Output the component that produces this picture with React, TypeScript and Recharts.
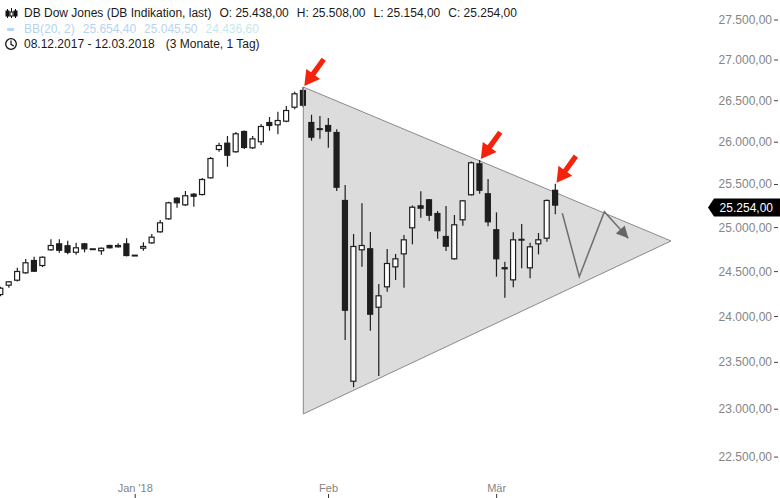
import React from "react";
import {
  ComposedChart,
  Bar,
  Area,
  Line,
  Scatter,
  XAxis,
  YAxis,
  ReferenceLine,
} from "recharts";

const FONT = "'Liberation Sans', Arial, Helvetica, sans-serif";

// daily candles, 08.12.2017 - 12.03.2018 (weekdays, index 0 = 08.12.)
const opens = [
  24238, 24342, 24398, 24481, 24631, 24563, 24741, 24820, 24798, 24713,
  24820, 24752, 24730, 24801, 24775, 24820, 24680, 24759, 24820, 24946,
  25095, 25346, 25257, 25392, 25377, 25572, 25907, 25994, 25880, 26134,
  25927, 25999, 26242, 26202, 26246, 26415, 26631, 26242, 26167, 26206,
  26122, 25319, 23292, 24741, 24764, 24097, 24324, 24548, 24695, 24992,
  25257, 25327, 25168, 24904, 24639, 25084, 25374, 25749, 25397, 24981,
  24526, 24402, 24860, 24537, 24809, 24873, 25438,
];
const highs = [
  24330, 24395, 24544, 24642, 24668, 24672, 24866, 24866, 24850, 24827,
  24825, 24752, 24772, 24805, 24820, 24878, 24680, 24832, 24927, 25087,
  25300, 25350, 25424, 25400, 25576, 25825, 25994, 26074, 26122, 26140,
  26074, 26218, 26302, 26367, 26436, 26610, 26667, 26330, 26315, 26290,
  26154, 25494, 24927, 25281, 24950, 24361, 24756, 24699, 24915, 25255,
  25420, 25330, 25190, 25249, 25145, 25320, 25770, 25788, 25564, 25176,
  24612, 24946, 25041, 24827, 24938, 25325, 25508,
];
const lows = [
  24225, 24320, 24390, 24475, 24495, 24550, 24735, 24713, 24695, 24690,
  24718, 24752, 24690, 24760, 24772, 24672, 24680, 24736, 24815, 24940,
  25090, 25230, 25250, 25241, 25370, 25570, 25887, 25709, 25875, 25919,
  25919, 25966, 26137, 26094, 26240, 26396, 26420, 26018, 26042, 25934,
  25424, 23743, 23233, 24555, 23844, 23353, 24275, 24406, 24320, 24809,
  25114, 25076, 24873, 24733, 24635, 25022, 25370, 25392, 25015, 24443,
  24208, 24324, 24537, 24425, 24695, 24839, 25154,
];
const closes = [
  24320, 24391, 24507, 24605, 24499, 24668, 24801, 24736, 24713, 24775,
  24752, 24752, 24770, 24764, 24801, 24676, 24680, 24790, 24896, 25061,
  25292, 25281, 25374, 25357, 25564, 25812, 25966, 25839, 26106, 25931,
  26046, 26194, 26194, 26266, 26387, 26590, 26439, 26054, 26150, 26126,
  25462, 24064, 24790, 24801, 24020, 24235, 24597, 24650, 24866, 25241,
  25218, 25137, 24958, 24782, 25038, 25315, 25761, 25427, 25061, 24639,
  24550, 24866, 24868, 24786, 24866, 25319, 25254,
];

const monthTicks = [16, 39, 59];
const monthLabels = ["Jan '18", "Feb", "Mär"];
const priceTicks = [
  22500, 23000, 23500, 24000, 24500, 25000, 25500, 26000, 26500, 27000, 27500,
];
const lastClose = 25254;

// triangle pattern (index, lower edge, upper edge)
const triangleX = [36, 79.74];
const triangleLow = [22950, 24847];
const triangleHigh = [26667, 24847];

// projected zigzag path
const pathX = [66.81, 68.83, 71.81, 74.66];
const pathY = [25165, 24443, 25183, 24877];

// red markers at the touches of the upper edge
const markerX = [36, 57, 66];
const markerY = [26667, 25788, 25508];

const X_MIN = -0.083;
const X_MAX = 84.14;

const candles = opens.map((o, i) => ({
  i,
  body: [Math.min(o, closes[i]), Math.max(o, closes[i])],
  wick: [lows[i], highs[i]],
  up: closes[i] >= o,
}));
const triangleData = triangleX.map((x, k) => ({
  i: x,
  band: [triangleLow[k], triangleHigh[k]],
}));
const pathData = pathX.map((x, k) => ({ i: x, v: pathY[k] }));
const markerData = markerX.map((x, k) => ({ i: x, v: markerY[k] }));

const INK = "#1e1e1e";

const fmt = (v: number) =>
  Math.round(v)
    .toString()
    .replace(/\B(?=(\d{3})+(?!\d))/g, ".") + ",00";

const Body = (p: any) => {
  const { x, y, width, height, payload } = p;
  if (x == null || y == null) return <g />;
  return (
    <rect
      x={x + 0.5}
      y={y + 0.5}
      width={width - 1}
      height={Math.max(height - 1, 0.8)}
      fill={payload.up ? "#ffffff" : INK}
      stroke={INK}
      strokeWidth={1.2}
    />
  );
};

const Wick = (p: any) => {
  const { x, y, width, height } = p;
  if (x == null || y == null) return <g />;
  const cx = x + width / 2;
  return <line x1={cx} x2={cx} y1={y} y2={y + height} stroke={INK} strokeWidth={1.2} />;
};

const RedArrow = (p: any) => {
  const { cx, cy } = p;
  if (cx == null) return <g />;
  return (
    <polygon
      transform={`translate(${cx + 1},${cy - 1}) rotate(126)`}
      points="0,0 -15,-8.5 -15,-2.6 -33,-2.6 -33,2.6 -15,2.6 -15,8.5"
      fill="#f5230c"
    />
  );
};

const ArrowHead = (p: any) => {
  const { cx, cy, index } = p;
  if (index !== pathData.length - 1 || cx == null) return <g key={p.key} />;
  return (
    <polygon
      key={p.key}
      transform={`translate(${cx},${cy}) rotate(48)`}
      points="0,0 -12,-6 -12,6"
      fill="#666666"
    />
  );
};

const MonthTick = (p: any) => {
  const { x, y, index } = p;
  return (
    <g>
      <text
        x={x}
        y={y + 14}
        textAnchor="middle"
        fill="#858585"
        fontSize={11}
        fontFamily={FONT}
      >
        {monthLabels[index]}
      </text>
      <line x1={x} x2={x} y1={y + 16} y2={y + 20} stroke="#333" />
    </g>
  );
};

const PriceTick = (p: any) => {
  const { x, y, payload } = p;
  const v = payload.value;
  if (v === lastClose) {
    return (
      <g>
        <polygon
          points={`${x},${y + 2} ${x + 6},${y - 7} ${x + 72},${y - 7} ${x + 72},${y + 11} ${x + 6},${y + 11}`}
          fill="#000"
        />
        <text
          x={x + 65}
          y={y + 6.5}
          textAnchor="end"
          fill="#fff"
          fontSize={12}
          fontFamily={FONT}
        >
          {fmt(v)}
        </text>
      </g>
    );
  }
  return (
    <g>
      <text
        x={x + 64}
        y={y + 4}
        textAnchor="end"
        fill="#858585"
        fontSize={12}
        fontFamily={FONT}
      >
        {fmt(v)}
      </text>
      <line x1={x + 66} x2={x + 70} y1={y} y2={y} stroke="#444" />
    </g>
  );
};

function Header() {
  const line: React.CSSProperties = {
    position: "absolute",
    left: 24,
    whiteSpace: "nowrap",
    lineHeight: "14px",
  };
  return (
    <div
      style={{
        position: "absolute",
        left: 0,
        top: 0,
        fontFamily: FONT,
        fontSize: 12,
        color: "#1a1a1a",
        pointerEvents: "none",
      }}
    >
      <svg width={30} height={55} style={{ position: "absolute", left: 0, top: 0 }}>
        <g stroke="#111" strokeWidth={1} fill="#111">
          <line x1={7.5} x2={7.5} y1={9} y2={18} />
          <rect x={6} y={11} width={3} height={5} />
          <line x1={11.5} x2={11.5} y1={8} y2={18} />
          <rect x={10} y={12} width={3} height={4} fill="#fff" />
          <line x1={15.5} x2={15.5} y1={9} y2={18} />
          <rect x={14} y={11} width={3} height={5} />
        </g>
        <rect x={7} y={28} width={7} height={3} rx={1} fill="#b5d6f5" />
        <circle cx={11} cy={44} r={5.3} fill="none" stroke="#111" strokeWidth={1.3} />
        <polyline points="11,40.5 11,44.3 13.8,46" fill="none" stroke="#111" strokeWidth={1.2} />
      </svg>
      <div style={{ ...line, top: 6 }}>
        <span>DB Dow Jones (DB Indikation, last)</span>
        <span style={{ marginLeft: 8 }}>O: 25.438,00</span>
        <span style={{ marginLeft: 8 }}>H: 25.508,00</span>
        <span style={{ marginLeft: 8 }}>L: 25.154,00</span>
        <span style={{ marginLeft: 8 }}>C: 25.254,00</span>
      </div>
      <div style={{ ...line, top: 21.5 }}>
        <span style={{ color: "#b3d4f3" }}>BB(20, 2)</span>
        <span style={{ color: "#b3d4f3", marginLeft: 8 }}>25.654,40</span>
        <span style={{ color: "#bcd3ec", marginLeft: 8 }}>25.045,50</span>
        <span style={{ color: "#c3e9ec", marginLeft: 8 }}>24.436,60</span>
      </div>
      <div style={{ ...line, top: 37 }}>
        <span>08.12.2017 - 12.03.2018</span>
        <span style={{ marginLeft: 11 }}>(3 Monate, 1 Tag)</span>
      </div>
    </div>
  );
}

export default function App() {
  return (
    <div
      style={{
        position: "absolute",
        left: 0,
        top: 0,
        width: 780,
        height: 498,
        background: "#fff",
        fontFamily: FONT,
      }}
    >
      <ComposedChart
        width={780}
        height={498}
        data={candles}
        margin={{ top: 0, right: 0, bottom: 0, left: 0 }}
      >
        <XAxis
          xAxisId="main"
          type="number"
          dataKey="i"
          domain={[X_MIN, X_MAX]}
          allowDataOverflow
          ticks={monthTicks}
          interval={0}
          tickLine={false}
          axisLine={false}
          tickSize={0}
          tickMargin={0}
          height={20}
          tick={(p: any) => <MonthTick {...p} />}
        />
        <XAxis
          xAxisId="w"
          type="number"
          dataKey="i"
          domain={[X_MIN, X_MAX]}
          allowDataOverflow
          hide
        />
        <YAxis
          orientation="right"
          width={72}
          type="number"
          scale="log"
          domain={[22285, 27754]}
          allowDataOverflow
          ticks={[...priceTicks, lastClose]}
          interval={0}
          tickLine={false}
          axisLine={false}
          tickSize={0}
          tickMargin={0}
          tick={(p: any) => <PriceTick {...p} />}
        />
        <Area
          xAxisId="main"
          data={triangleData}
          dataKey="band"
          type="linear"
          fill="#dcdcdc"
          fillOpacity={1}
          stroke="#8a8a8a"
          strokeWidth={1}
          dot={false}
          activeDot={false}
          isAnimationActive={false}
        />
        <ReferenceLine
          xAxisId="main"
          segment={[
            { x: triangleX[0], y: triangleLow[0] },
            { x: triangleX[0], y: triangleHigh[0] },
          ]}
          stroke="#8a8a8a"
          strokeWidth={1}
        />
        <Bar
          xAxisId="w"
          dataKey="wick"
          barSize={6}
          shape={Wick}
          isAnimationActive={false}
        />
        <Bar
          xAxisId="main"
          dataKey="body"
          barSize={6}
          minPointSize={1}
          shape={Body}
          isAnimationActive={false}
        />
        <Line
          xAxisId="main"
          data={pathData}
          dataKey="v"
          type="linear"
          stroke="#6e6e6e"
          strokeWidth={1.5}
          dot={ArrowHead}
          activeDot={false}
          isAnimationActive={false}
        />
        <Scatter
          xAxisId="main"
          data={markerData}
          dataKey="v"
          shape={RedArrow}
          isAnimationActive={false}
        />
      </ComposedChart>
      <Header />
    </div>
  );
}
